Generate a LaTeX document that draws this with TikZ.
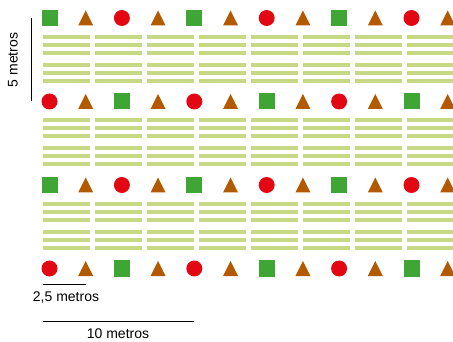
\documentclass[tikz,border=0pt]{standalone}
\usepackage{fontspec}
\setmainfont{Liberation Sans}
\usetikzlibrary{calc}
\definecolor{hijau}{HTML}{3FA535}
\definecolor{coklat}{HTML}{B35900}
\definecolor{merah}{HTML}{E30613}
\definecolor{daun}{HTML}{C8D985}

\begin{document}
\begin{tikzpicture}[x=1pt,y=-1pt,
    kotak/.style={fill=hijau},
    segitiga/.style={fill=coklat},
    bulat/.style={fill=merah},
    jalur/.style={fill=daun},
    skala/.style={thick,line width=1pt},
    teks/.style={font=\fontsize{14}{16}\selectfont,inner sep=0pt}]

    \useasboundingbox (0,0) rectangle (453,342);

    % Barisan tanaman (garis hijau)
    \foreach \j in {0,1,2}
      \foreach \b in {0,...,7}
        \foreach \d in {0,8,16,28,36,44}
          \fill[jalur] ({43+52*\b},{35+83.5*\j+\d}) rectangle ++(47,4);

    % Simbol kotak, segitiga, lingkaran
    \foreach \r in {0,...,3}
      \foreach \c in {0,...,11}{
        \pgfmathsetmacro{\xx}{49.5+36.2*\c}
        \pgfmathsetmacro{\yy}{18+83.5*\r}
        \pgfmathtruncatemacro{\ganjil}{mod(\c,2)}
        \pgfmathtruncatemacro{\jenis}{mod(\c/2+\r,2)}
        \ifnum\ganjil=1
          \fill[segitiga] (\xx-7.5,\yy+7.5) -- (\xx+7.5,\yy+7.5) -- (\xx,\yy-7.5) -- cycle;
        \else
          \ifnum\jenis=0
            \fill[kotak] (\xx-8,\yy-8) rectangle (\xx+8,\yy+8);
          \else
            \fill[bulat] (\xx,\yy) circle (8);
          \fi
        \fi
      }

    % Skala tegak
    \coordinate (v1) at (31,18);
    \coordinate (v2) at (31,101);
    \draw[skala] (v1) -- (v2);
    \node[teks,rotate=90] (lima) at (13,60) {5 metros};

    % Skala bawah
    \coordinate (p1) at (43,284);
    \coordinate (p2) at (86,284);
    \draw[skala] (p1) -- (p2);
    \node[teks] (duasetengah) at (66,298) {2,5 metros};

    \coordinate (q1) at (43,321);
    \coordinate (q2) at (194,321);
    \draw[skala] (q1) -- (q2);
    \node[teks] (sepuluh) at (118,334) {10 metros};

\end{tikzpicture}
\end{document}
